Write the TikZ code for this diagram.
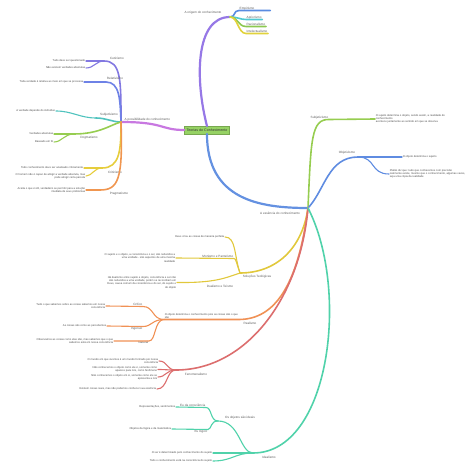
\documentclass[tikz,border=0pt]{standalone}
\usepackage{fontspec}
\setmainfont{Liberation Sans}
\usetikzlibrary{positioning}
\definecolor{pistachio}{RGB}{150,210,100}
\definecolor{lilac}{RGB}{150,120,230}
\definecolor{cobalt}{RGB}{90,140,225}
\definecolor{turquoise}{RGB}{80,200,210}
\definecolor{grass}{RGB}{140,200,80}
\definecolor{mustard}{RGB}{225,210,60}
\definecolor{orchid}{RGB}{200,120,225}
\definecolor{iris}{RGB}{130,120,225}
\definecolor{periwinkle}{RGB}{110,130,230}
\definecolor{lagoon}{RGB}{80,195,190}
\definecolor{moss}{RGB}{150,205,80}
\definecolor{amber}{RGB}{230,205,60}
\definecolor{tangerine}{RGB}{240,150,80}
\definecolor{azure}{RGB}{100,145,225}
\definecolor{sapphire}{RGB}{95,140,225}
\definecolor{sunflower}{RGB}{225,200,60}
\definecolor{apricot}{RGB}{240,145,85}
\definecolor{coral}{RGB}{220,110,110}
\definecolor{mint}{RGB}{80,210,170}

\begin{document}
\begin{tikzpicture}[x=1pt, y=-1pt,
    root/.style={rectangle, draw=pistachio!80!black, fill=pistachio, line width=0.4pt, inner xsep=2pt, inner ysep=2.4pt, font=\fontsize{3.6}{4}\selectfont, text=black!80},
    topic/.style={font=\fontsize{3.1}{3.6}\selectfont, text=black!65, inner sep=0.5pt},
    leafnote/.style={font=\fontsize{2.7}{3.3}\selectfont, text=black!70, inner sep=0.6pt, align=right, anchor=east},
    leafnoter/.style={leafnote, align=left, anchor=west},
    mainline/.style={line width=2.2pt, line cap=round},
    subline/.style={line width=1.6pt, line cap=round},
    twigline/.style={line width=1.1pt, line cap=round}]

    \useasboundingbox (0,0) rectangle (474,470);

    % Root
    \node[root] (root) at (207,130) {Teorias do Conhecimento};

    % A origem do conhecimento
    \coordinate (origem) at (230,17);
    \node[topic] (origemlbl) at (203,13) {A origem do conhecimento};
    \draw[mainline, lilac] (root.north) .. controls (195,80) and (195,17) .. (origem);

    \node[topic, anchor=south west, text width=30pt] (empirismo) at (239,10.5) {Empirismo};
    \node[topic, anchor=south west] (apriorismo) at (246,19.5) {Apriorismo};
    \node[topic, anchor=south west] (racionalismo) at (246,26.5) {Racionalismo};
    \node[topic, anchor=south west] (intelectualismo) at (246,33.5) {Intelectualismo};
    \draw[subline, cobalt] (origem) .. controls (236,17) and (233,10.5) .. (empirismo.south west) -- (empirismo.south east);
    \draw[subline, turquoise] (origem) .. controls (238,17) and (240,19.5) .. (apriorismo.south west) -- (apriorismo.south east);
    \draw[subline, grass] (origem) .. controls (238,17) and (238,26.5) .. (racionalismo.south west) -- (racionalismo.south east);
    \draw[subline, mustard] (origem) .. controls (238,17) and (238,33.5) .. (intelectualismo.south west) -- (intelectualismo.south east);

    % A possibilidade do conhecimento
    \coordinate (possib) at (121,122);
    \node[topic, anchor=south west] (possiblbl) at (124,121.5) {A possibilidade do conhecimento};
    \draw[mainline, orchid] (root.west) .. controls (160,130) and (165,122) .. (possib);

    % Ceticismo
    \coordinate (cetic) at (104,61);
    \node[topic] (ceticlbl) at (117,58) {Ceticismo};
    \draw[subline, iris] (possib) .. controls (121,80) and (121,61) .. (cetic);
    \node[leafnote] (ceticA) at (86,61) {Tudo deve ser questionado};
    \node[leafnote] (ceticB) at (86,68) {Não existem verdades absolutas};
    \draw[twigline, iris] (cetic) -- (ceticA.east);
    \draw[twigline, iris] (cetic) .. controls (96,61) and (94,68) .. (ceticB.east);

    % Relativismo
    \coordinate (relat) at (106,82);
    \node[topic] (relatlbl) at (115,78.5) {Relativismo};
    \draw[subline, periwinkle] (possib) .. controls (120,100) and (120,82) .. (relat);
    \node[leafnote] (relatA) at (84,82) {Toda verdade é relativa ao meio em que se processa};
    \draw[twigline, periwinkle] (relat) -- (relatA.east);

    % Subjetivismo
    \coordinate (subjl) at (96,118);
    \node[topic] (subjllbl) at (109,114.5) {Subjetivismo};
    \draw[subline, lagoon] (possib) .. controls (112,122) and (106,118) .. (subjl);
    \node[leafnote] (subjlA) at (56,111) {A verdade depende do indivíduo};
    \draw[twigline, lagoon] (subjl) .. controls (80,118) and (72,111) .. (subjlA.east);

    % Dogmatismo
    \coordinate (dogma) at (74,134);
    \node[topic] (dogmalbl) at (89,137.5) {Dogmatismo};
    \draw[subline, moss] (possib) .. controls (112,124) and (100,134) .. (dogma);
    \node[leafnote] (dogmaA) at (54,134) {Verdades absolutas};
    \node[leafnote] (dogmaB) at (54,142) {Baseado em fé};
    \draw[twigline, moss] (dogma) -- (dogmaA.east);
    \draw[twigline, moss] (dogma) .. controls (64,134) and (62,142) .. (dogmaB.east);

    % Criticismo
    \coordinate (crit) at (102,168);
    \node[topic] (critlbl) at (115,172) {Criticismo};
    \draw[subline, amber] (possib) .. controls (121,150) and (120,168) .. (crit);
    \node[leafnote] (critA) at (84,168) {Todo conhecimento deve ser analisado criticamente};
    \node[leafnote] (critB) at (86,176) {O homem não é capaz de atingir a verdade absoluta, mas\\pode atingir certa parcela};
    \draw[twigline, amber] (crit) -- (critA.east);
    \draw[twigline, amber] (crit) .. controls (94,168) and (92,176) .. (critB.east);

    % Pragmatismo
    \coordinate (pragm) at (100,190);
    \node[topic] (pragmlbl) at (119,194) {Pragmatismo};
    \draw[subline, tangerine] (possib) .. controls (123,180) and (118,190) .. (pragm);
    \node[leafnote] (pragmA) at (86,190) {Aceita o que é útil, verdadeiro se permitir para a solução\\imediata de seus problemas};
    \draw[twigline, tangerine] (pragm) -- (pragmA.east);

    % A essencia do conhecimento
    \coordinate (ess) at (308,208);
    \node[topic] (esslbl) at (280,213) {A essência do conhecimento};
    \draw[mainline, azure] (root.south) .. controls (207,200) and (260,208) .. (ess);

    % Subjetivismo / Objetivismo
    \node[topic, anchor=south east] (subjr) at (329,119.5) {Subjetivismo};
    \node[leafnoter] (subjrA) at (375,119) {O sujeito determina o objeto, sendo assim, a realidade do\\conhecimento\\acontece juntamente ao sentido em que se observa};
    \draw[subline, moss] (ess) .. controls (311,140) and (311,119) .. (subjr.south east) -- (subjrA.west);

    \coordinate (objet) at (358,157);
    \node[topic] (objetlbl) at (347,153) {Objetivismo};
    \draw[subline, sapphire] (ess) .. controls (325,190) and (328,157) .. (objet);
    \node[leafnoter] (objetA) at (402,157) {O objeto determina o sujeito};
    \node[leafnoter] (objetB) at (389,174) {Platão diz que: tudo que conhecemos com precisão\\realmente existe, mesmo que o conhecimento, algumas vezes,\\seja uma cópia da realidade};
    \draw[twigline, sapphire] (objet) -- (objetA.west);
    \draw[twigline, sapphire] (objet) .. controls (376,157) and (370,174) .. (objetB.west);

    % Solucoes teologicas
    \coordinate (teol) at (240,273);
    \node[topic] (teollbl) at (257,277) {Soluções Teológicas};
    \draw[subline, sunflower] (ess) .. controls (302,250) and (275,273) .. (teol);
    \node[leafnote] (teolA) at (225,237) {Deus criou as coisas de maneira perfeita};
    \draw[twigline, sunflower] (teol) .. controls (234,255) and (236,237) .. (teolA.east);
    \node[topic, anchor=south east] (monismo) at (234,258.5) {Monismo e Panteísmo};
    \node[leafnote] (monismoA) at (176,258) {O sujeito e o objeto, a consciência e o ser, são reduzidos a\\uma unidade - são aspectos de uma mesma\\realidade};
    \draw[twigline, sunflower] (teol) .. controls (236,262) and (236,258.5) .. (monismo.south east) -- (monismoA.east);
    \node[topic] (dualismo) at (220,286.5) {Dualismo e Teísmo};
    \node[leafnote] (dualismoA) at (177,282.5) {Há dualismo entre sujeito e objeto, consciência e ser não\\são reduzidos a uma unidade, porém se reconciliam em\\Deus, causa comum da consciência e do ser, do sujeito e\\do objeto};
    \draw[twigline, sunflower] (teol) .. controls (225,278) and (215,283) .. (dualismoA.east);

    % Realismo
    \node[leafnoter, anchor=south west] (realobj) at (164,319.5) {O objeto determina o conhecimento pois as coisas são o que\\são};
    \node[topic] (reallbl) at (250,323.5) {Realismo};
    \draw[subline, apricot] (ess) .. controls (298,285) and (275,319.5) .. (realobj.south east) -- (realobj.south west);
    \node[topic, anchor=south east] (critico) at (143,306.5) {Crítico};
    \node[leafnote] (criticoA) at (106,306) {Tudo o que sabemos sobre as coisas sabemos em nossa\\consciência};
    \draw[twigline, apricot] (realobj.south west) .. controls (152,319.5) and (154,306.5) .. (critico.south east) -- (criticoA.east);
    \node[topic, anchor=north east] (ingenuo) at (143,326.5) {Ingênuo};
    \node[leafnote] (ingenuoA) at (107,326) {As coisas são como as percebemos};
    \draw[twigline, apricot] (realobj.south west) .. controls (152,319.5) and (152,326.5) .. (ingenuo.north east) -- (ingenuoA.east);
    \node[topic, anchor=north east] (natural) at (149,341) {Natural};
    \node[leafnote] (naturalA) at (114,341) {Observamos as coisas como elas são, mas sabemos que o que\\sabemos está em nossa consciência};
    \draw[twigline, apricot] (realobj.south west) .. controls (154,320) and (156,341) .. (natural.north east) -- (naturalA.east);

    % Fenomenalismo
    \coordinate (fenom) at (176,370);
    \node[topic] (fenomlbl) at (196,374.5) {Fenomenalismo};
    \draw[subline, coral] (ess) .. controls (300,300) and (245,370) .. (fenom);
    \node[leafnote] (fenomA) at (159,361) {O mundo em que vivemos é um mundo formado por nossa\\consciência};
    \node[leafnote] (fenomB) at (158,369.5) {Não conhecemos o objeto como ele é, somente como\\aparece para nós, como fenômeno};
    \node[leafnote] (fenomC) at (158,377) {Não conhecemos o objeto em si, somente como ele se\\apresenta a nós};
    \node[leafnote] (fenomD) at (157,389) {Existem coisas reais, mas não podemos conhecer sua essência};
    \draw[twigline, coral] (fenom) .. controls (166,370) and (168,361) .. (fenomA.east);
    \draw[twigline, coral] (fenom) .. controls (166,370) and (166,369.5) .. (fenomB.east);
    \draw[twigline, coral] (fenom) .. controls (166,370) and (166,377) .. (fenomC.east);
    \draw[twigline, coral] (fenom) .. controls (166,370) and (168,389) .. (fenomD.east);

    % Idealismo
    \coordinate (ideal) at (253,453);
    \node[topic] (ideallbl) at (269,457.5) {Idealismo};
    \draw[subline, mint] (ess) .. controls (350,290) and (330,453) .. (ideal);
    \node[leafnote] (idealA) at (213,453) {O ser é determinado pelo conhecimento do sujeito};
    \node[leafnote] (idealB) at (213,461) {Todo o conhecimento está na consciência do sujeito};
    \draw[twigline, mint] (ideal) -- (idealA.east);
    \draw[twigline, mint] (ideal) .. controls (235,453) and (232,461) .. (idealB.east);
    \coordinate (idealjn) at (218,421);
    \node[topic] (idealobj) at (240,417.5) {Os objetos são ideais};
    \draw[twigline, mint] (ideal) .. controls (240,453) and (240,421) .. (idealjn);
    \node[topic, anchor=south east] (eucons) at (206,407.5) {Eu da consciência};
    \node[leafnote] (euconsA) at (176,407) {Representações, sentimentos};
    \draw[twigline, mint] (idealjn) .. controls (210,421) and (212,407.5) .. (eucons.south east) -- (euconsA.east);
    \node[topic, anchor=north east] (eulogico) at (208,429.5) {Eu lógico};
    \node[leafnote] (eulogicoA) at (172,429) {Objetos da lógica e da matemática};
    \draw[twigline, mint] (idealjn) .. controls (210,421) and (212,429) .. (eulogico.north east) -- (eulogicoA.east);

\end{tikzpicture}
\end{document}
